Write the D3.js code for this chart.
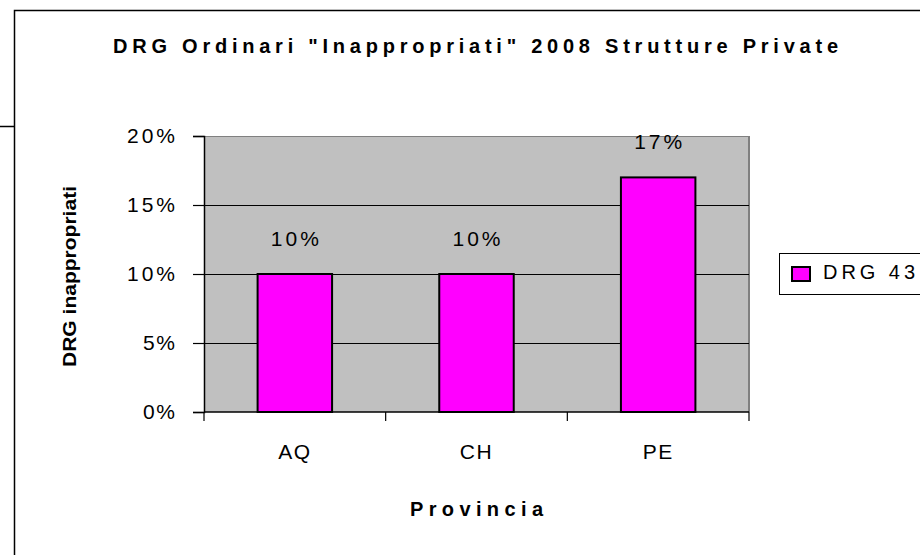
<!DOCTYPE html>
<html><head><meta charset="utf-8">
<script src="https://cdn.jsdelivr.net/npm/d3@7"></script>
<style>
html,body{margin:0;padding:0;background:#fff;overflow:hidden}
text{font-family:Arial,"Liberation Sans",sans-serif;fill:#000}
</style></head>
<body>
<svg id="c" width="920" height="555"></svg>
<script>
const categories = ["AQ", "CH", "PE"];
const values = [0.10, 0.10, 0.17];
const valueLabels = ["10%", "10%", "17%"];
const yTicks = [0, 0.05, 0.10, 0.15, 0.20];
const yTickLabels = ["0%", "5%", "10%", "15%", "20%"];
const seriesName = "DRG 43";
const title = "DRG Ordinari \"Inappropriati\" 2008 Strutture Private";
const yTitle = "DRG inappropriati";
const xTitle = "Provincia";

const svg = d3.select("#c");
// outer chart frame
svg.append("rect").attr("x", 14.5).attr("y", 10.5).attr("width", 1000).attr("height", 1000)
  .attr("fill", "#fff").attr("stroke", "#000").attr("stroke-width", 1.5);
svg.append("line").attr("x1", 0).attr("x2", 14).attr("y1", 126.5).attr("y2", 126.5)
  .attr("stroke", "#000").attr("stroke-width", 1.5);

const L = 204, R = 749, T = 136, B = 412;
const x = d3.scaleBand().domain(categories).range([L, R]).paddingInner(0.59).paddingOuter(0.295);
const y = d3.scaleLinear().domain([0, 0.2]).range([B, T]);

// plot area
svg.append("rect").attr("x", L).attr("y", T).attr("width", R - L).attr("height", B - T).attr("fill", "#c0c0c0");
svg.append("line").attr("x1", L).attr("x2", R).attr("y1", T + 0.5).attr("y2", T + 0.5).attr("stroke", "#808080");
svg.append("line").attr("x1", R).attr("x2", R).attr("y1", T).attr("y2", B).attr("stroke", "#808080").attr("stroke-width", 2);

// gridlines
svg.append("g").selectAll("line").data(yTicks.filter(d => d > 0 && d < 0.2)).join("line")
  .attr("x1", L).attr("x2", R).attr("y1", d => Math.round(y(d)) + 0.5).attr("y2", d => Math.round(y(d)) + 0.5)
  .attr("stroke", "#000").attr("stroke-width", 1);

// bars
svg.append("g").selectAll("rect").data(values).join("rect")
  .attr("x", (d, i) => x(categories[i])).attr("width", x.bandwidth())
  .attr("y", d => y(d)).attr("height", d => B - y(d))
  .attr("fill", "#ff00ff").attr("stroke", "#000").attr("stroke-width", 2);

// value labels
svg.append("g").selectAll("text").data(values).join("text")
  .attr("x", (d, i) => x(categories[i]) + x.bandwidth() / 2).attr("y", d => y(d) - 28)
  .attr("text-anchor", "middle").attr("font-size", 21).attr("textLength", 48).attr("lengthAdjust", "spacing")
  .text((d, i) => valueLabels[i]);

// y axis
const yAxis = d3.axisLeft(y).tickValues(yTicks).tickFormat((d, i) => yTickLabels[i]).tickSize(11).tickPadding(18);
const gy = svg.append("g").attr("transform", `translate(${L},0)`).call(yAxis);
gy.select(".domain").attr("stroke", "#000").attr("stroke-width", 1.5);
gy.selectAll(".tick line").attr("stroke", "#000").attr("stroke-width", 1.2);
gy.selectAll(".tick text").attr("font-size", 21).attr("font-family", "Arial,'Liberation Sans',sans-serif")
  .attr("fill", "#000").attr("dy", "0.3em")
  .attr("textLength", (d, i) => yTickLabels[i].length > 2 ? 48 : 32).attr("lengthAdjust", "spacing");

// x axis line and boundary ticks
svg.append("line").attr("x1", L).attr("x2", R).attr("y1", B).attr("y2", B).attr("stroke", "#000").attr("stroke-width", 1.5);
const bounds = [L].concat(categories.map(c => x(c) + x.bandwidth() / 2 + x.step() / 2));
svg.append("g").selectAll("line").data(bounds).join("line")
  .attr("x1", d => d).attr("x2", d => d).attr("y1", B).attr("y2", B + 9).attr("stroke", "#000").attr("stroke-width", 1.2);
svg.append("g").selectAll("text").data(categories).join("text")
  .attr("x", d => x(d) + x.bandwidth() / 2).attr("y", 459)
  .attr("text-anchor", "middle").attr("font-size", 21).attr("letter-spacing", 1.5).text(d => d);

// titles
svg.append("text").attr("x", 475.5).attr("y", 53).attr("text-anchor", "middle")
  .attr("font-size", 20).attr("font-weight", "bold").attr("textLength", 725).attr("lengthAdjust", "spacing").text(title);
svg.append("text").attr("transform", "translate(76,276.5) rotate(-90)").attr("text-anchor", "middle")
  .attr("font-size", 19).attr("font-weight", "bold").attr("textLength", 181).attr("lengthAdjust", "spacingAndGlyphs").text(yTitle);
svg.append("text").attr("x", 476.5).attr("y", 516).attr("text-anchor", "middle")
  .attr("font-size", 20).attr("font-weight", "bold").attr("textLength", 133).attr("lengthAdjust", "spacing").text(xTitle);

// legend
svg.append("rect").attr("x", 779.5).attr("y", 253.5).attr("width", 200).attr("height", 41)
  .attr("fill", "#fff").attr("stroke", "#000").attr("stroke-width", 1);
svg.append("rect").attr("x", 792).attr("y", 267).attr("width", 18).attr("height", 14)
  .attr("fill", "#ff00ff").attr("stroke", "#000").attr("stroke-width", 2);
svg.append("text").attr("x", 823).attr("y", 279).attr("font-size", 20)
  .attr("textLength", 92).attr("lengthAdjust", "spacing").text(seriesName);
</script>
</body></html>
